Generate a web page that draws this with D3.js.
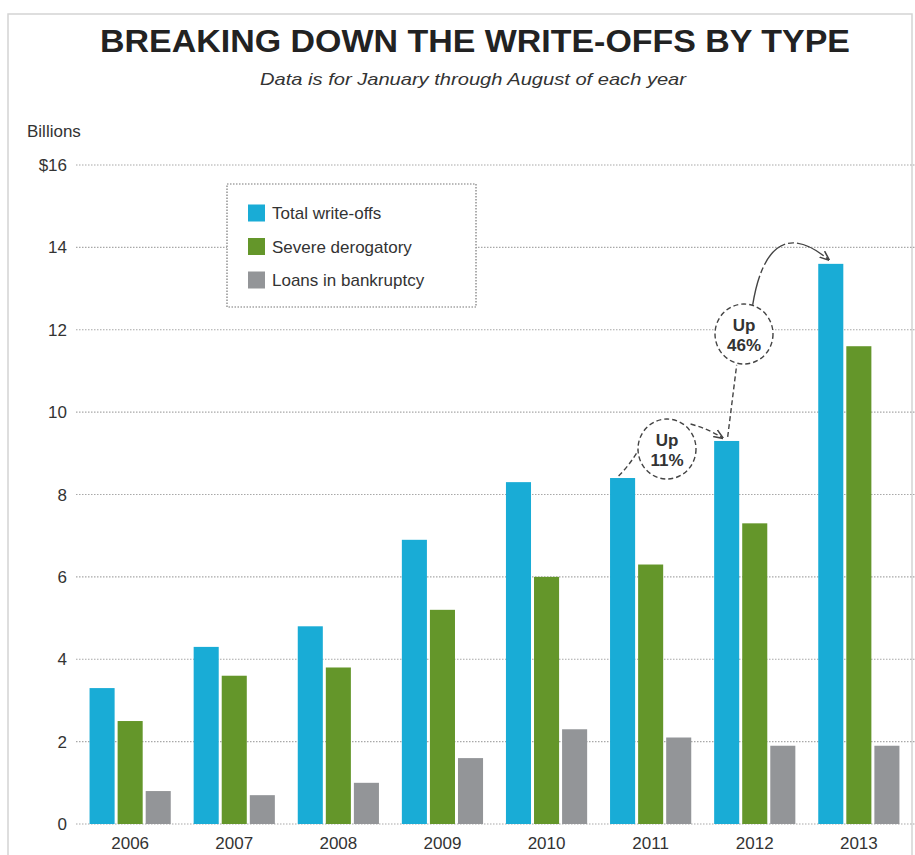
<!DOCTYPE html>
<html>
<head>
<meta charset="utf-8">
<script src="https://cdn.jsdelivr.net/npm/d3@7"></script>
<style>
  html, body { margin: 0; background: #fff; }
  text { font-family: "Liberation Sans", Arial, sans-serif; }
</style>
</head>
<body>
<script>
const years = ['2006', '2007', '2008', '2009', '2010', '2011', '2012', '2013'];
const totalWriteOffs = [3.3, 4.3, 4.8, 6.9, 8.3, 8.4, 9.3, 13.6];
const severeDerogatory = [2.5, 3.6, 3.8, 5.2, 6.0, 6.3, 7.3, 11.6];
const loansInBankruptcy = [0.8, 0.7, 1.0, 1.6, 2.3, 2.1, 1.9, 1.9];
const seriesNames = ['Total write-offs', 'Severe derogatory', 'Loans in bankruptcy'];
const seriesColors = ['#19acd6', '#64962a', '#939598'];
const yTicks = [0, 2, 4, 6, 8, 10, 12, 14, 16];

const width = 915;
const height = 855;

const svg = d3.select('body')
  .append('svg')
  .attr('width', width)
  .attr('height', height);

// frame
svg.append('path')
  .attr('d', 'M8,855 V14 H912 V855')
  .attr('fill', 'none')
  .attr('stroke', '#d4d4d4')
  .attr('stroke-width', 1.5);

const x = d3.scaleBand().domain(years).range([78, 911]).paddingInner(0.22).paddingOuter(0.111);
const xs = d3.scaleBand().domain(seriesNames).range([0, x.bandwidth()]).paddingInner(0.107);
const y = d3.scaleLinear().domain([0, 16]).range([824, 165]);

// gridlines
svg.append('g')
  .selectAll('line')
  .data(yTicks)
  .join('line')
  .attr('x1', 76)
  .attr('x2', 915)
  .attr('y1', d => y(d))
  .attr('y2', d => y(d))
  .attr('stroke', '#a8a8a8')
  .attr('stroke-width', 1.2)
  .attr('stroke-dasharray', '1.5,1.5');

// y labels
svg.append('g')
  .selectAll('text')
  .data(yTicks)
  .join('text')
  .attr('x', 67)
  .attr('y', d => y(d) + 6)
  .attr('text-anchor', 'end')
  .attr('font-size', 17)
  .attr('fill', '#333')
  .text(d => d === 16 ? '$16' : d);

svg.append('text')
  .attr('x', 27)
  .attr('y', 137)
  .attr('font-size', 17)
  .attr('fill', '#333')
  .text('Billions');

// bars
const rows = years.map((yr, i) => ({
  year: yr,
  values: [totalWriteOffs[i], severeDerogatory[i], loansInBankruptcy[i]]
}));

const groups = svg.append('g')
  .selectAll('g')
  .data(rows)
  .join('g')
  .attr('transform', d => `translate(${x(d.year)},0)`);

groups.selectAll('rect')
  .data(d => d.values.map((v, k) => ({ name: seriesNames[k], v, k })))
  .join('rect')
  .attr('x', d => xs(d.name))
  .attr('y', d => y(d.v))
  .attr('width', xs.bandwidth())
  .attr('height', d => y(0) - y(d.v))
  .attr('fill', d => seriesColors[d.k]);

// x labels
svg.append('g')
  .selectAll('text')
  .data(years)
  .join('text')
  .attr('x', d => x(d) + x.bandwidth() / 2)
  .attr('y', 849)
  .attr('text-anchor', 'middle')
  .attr('font-size', 17)
  .attr('fill', '#333')
  .text(d => d);

// title
svg.append('text')
  .attr('x', 100)
  .attr('y', 52)
  .attr('font-size', 32)
  .attr('font-weight', 'bold')
  .attr('fill', '#222')
  .attr('textLength', 750)
  .attr('lengthAdjust', 'spacingAndGlyphs')
  .text('BREAKING DOWN THE WRITE-OFFS BY TYPE');

svg.append('text')
  .attr('x', 260)
  .attr('y', 85)
  .attr('font-size', 17)
  .attr('font-style', 'italic')
  .attr('fill', '#333')
  .attr('textLength', 426)
  .attr('lengthAdjust', 'spacingAndGlyphs')
  .text('Data is for January through August of each year');

// legend
svg.append('rect')
  .attr('x', 227)
  .attr('y', 184)
  .attr('width', 249)
  .attr('height', 123)
  .attr('fill', '#fff')
  .attr('stroke', '#777')
  .attr('stroke-width', 1.2)
  .attr('stroke-dasharray', '1.5,1.5');

const legend = svg.append('g')
  .selectAll('g')
  .data(seriesNames)
  .join('g')
  .attr('transform', (d, i) => `translate(248,${213 + i * 33.5})`);

legend.append('rect')
  .attr('x', 0)
  .attr('y', -8.5)
  .attr('width', 17)
  .attr('height', 17)
  .attr('fill', (d, i) => seriesColors[i]);

legend.append('text')
  .attr('x', 24)
  .attr('y', 6)
  .attr('font-size', 17)
  .attr('fill', '#333')
  .text(d => d);

// annotations
const bx = (yr) => x(yr) + xs(seriesNames[0]) + xs.bandwidth() / 2;

const defs = svg.append('defs');
defs.append('marker')
  .attr('id', 'arr')
  .attr('viewBox', '0 0 10 10')
  .attr('refX', 9)
  .attr('refY', 5)
  .attr('markerWidth', 7)
  .attr('markerHeight', 7)
  .attr('orient', 'auto')
  .append('path')
  .attr('d', 'M0,1 L10,5 L0,9')
  .attr('fill', 'none')
  .attr('stroke', '#444')
  .attr('stroke-width', 1.6)
  .attr('stroke-dasharray', null);

const dash = '5,3';
const ann = svg.append('g')
  .attr('fill', 'none')
  .attr('stroke', '#444')
  .attr('stroke-width', 1.4)
  .attr('stroke-dasharray', dash);

const t11 = y(totalWriteOffs[5]);
const t12 = y(totalWriteOffs[6]);
const t13 = y(totalWriteOffs[7]);

ann.append('path')
  .attr('d', `M${bx('2011') - 4},${t11 - 2} Q${bx('2011') + 8},${t11 - 14} ${bx('2011') + 17},${t11 - 30}`);
ann.append('path')
  .attr('d', `M${bx('2011') + 68},${t11 - 54} Q${bx('2012') - 18},${t12 - 12} ${bx('2012') - 4},${t12 - 3}`)
  .attr('marker-end', 'url(#arr)');
ann.append('path')
  .attr('d', `M${bx('2012') + 1},${t12 - 4} L${bx('2012') + 10},${t12 - 76}`);
ann.append('path')
  .attr('d', `M${bx('2012') + 26},${t12 - 136} C${bx('2012') + 36},${t13 - 20} ${bx('2013') - 42},${t13 - 38} ${bx('2013') - 2},${t13 - 4}`)
  .attr('stroke-dasharray', '30,3,6,3')
  .attr('marker-end', 'url(#arr)');

const bubbles = [
  { cx: 667, cy: 449, label: '11%' },
  { cx: 744, cy: 334, label: '46%' }
];

const bub = svg.append('g')
  .selectAll('g')
  .data(bubbles)
  .join('g')
  .attr('transform', d => `translate(${d.cx},${d.cy})`);

bub.append('ellipse')
  .attr('rx', 29)
  .attr('ry', 30)
  .attr('fill', '#fff')
  .attr('stroke', '#444')
  .attr('stroke-width', 1.4)
  .attr('stroke-dasharray', dash);

bub.append('text')
  .attr('y', -3)
  .attr('text-anchor', 'middle')
  .attr('font-size', 17)
  .attr('font-weight', 'bold')
  .attr('fill', '#333')
  .text('Up');

bub.append('text')
  .attr('y', 17)
  .attr('text-anchor', 'middle')
  .attr('font-size', 17)
  .attr('font-weight', 'bold')
  .attr('fill', '#333')
  .text(d => d.label);
</script>
</body>
</html>
